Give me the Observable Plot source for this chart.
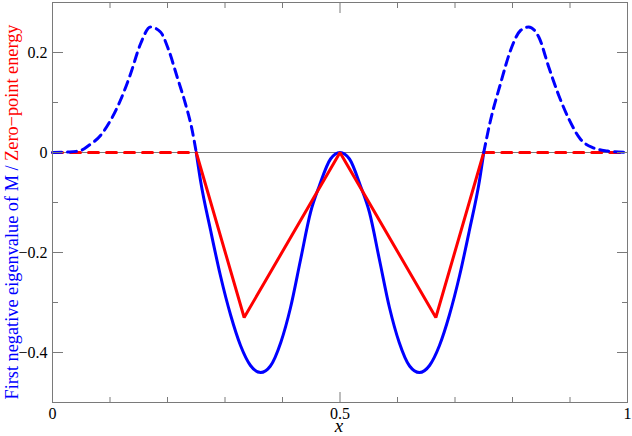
<!DOCTYPE html>
<html>
<head>
<meta charset="utf-8">
<script src="https://cdn.jsdelivr.net/npm/d3@7"></script>
<script src="https://cdn.jsdelivr.net/npm/@observablehq/plot@0.6"></script>
<style>
  html, body { margin: 0; padding: 0; background: #fff; }
</style>
</head>
<body>
<script>
// Blue curve: first negative eigenvalue of M (dashed outside [0.25, 0.75])
const blueLeftX = [0, 0.03, 0.049, 0.063, 0.0835, 0.1009, 0.118, 0.1357, 0.153, 0.1704, 0.1878, 0.2023, 0.2168, 0.2313, 0.243, 0.25];
const blueLeftY = [0, 0.001, 0.004, 0.014, 0.034, 0.064, 0.104, 0.157, 0.217, 0.251, 0.241, 0.204, 0.151, 0.097, 0.044, 0];

const blueMidX = [0.25, 0.2574, 0.275, 0.292, 0.31, 0.327, 0.3443, 0.362, 0.379, 0.397, 0.414, 0.4313, 0.4487, 0.464, 0.4835, 0.5,
                  0.5165, 0.536, 0.5513, 0.5687, 0.586, 0.603, 0.621, 0.638, 0.6557, 0.673, 0.69, 0.708, 0.725, 0.7426, 0.75];
const blueMidY = [0, -0.056, -0.156, -0.246, -0.326, -0.386, -0.426, -0.44, -0.427, -0.38, -0.31, -0.215, -0.12, -0.067, -0.013, 0,
                  -0.013, -0.068, -0.12, -0.215, -0.31, -0.38, -0.427, -0.44, -0.426, -0.386, -0.326, -0.246, -0.156, -0.056, 0];

const blueRightX = [0.75, 0.7617, 0.779, 0.7965, 0.8139, 0.828, 0.8457, 0.863, 0.8805, 0.898, 0.918, 0.9414, 0.965, 1];
const blueRightY = [0, 0.064, 0.137, 0.204, 0.244, 0.251, 0.231, 0.171, 0.114, 0.067, 0.027, 0.009, 0.003, 0];

// Red curve: zero-point energy (dashed outside [0.25, 0.75])
const redLeftX = [0, 0.25];
const redLeftY = [0, 0];
const redMidX = [0.25, 1 / 3, 0.5, 2 / 3, 0.75];
const redMidY = [0, -0.33, 0, -0.33, 0];
const redRightX = [0.75, 1];
const redRightY = [0, 0];

// Axis ticks
const xMajor = [0, 0.5, 1];
const xMinor = [0.1, 0.2, 0.3, 0.4, 0.6, 0.7, 0.8, 0.9];
const yMajor = [-0.4, -0.2, 0, 0.2];
const yMinor = [-0.3, -0.1, 0.1];
const zeroLine = [0];

const rows = (xs, ys) => xs.map((x, i) => ({x, y: ys[i]}));

const serif = "Liberation Serif";
const axisColor = "#7a7a7a";
const blue = "#0000ff";
const red = "#ff0000";
const fmt = d => d3.format("")(d).replace("-", "\u2212");

const plot = Plot.plot({
  width: 632,
  height: 436,
  marginLeft: 52,
  marginRight: 5,
  marginTop: 2,
  marginBottom: 34,
  x: {domain: [0, 1]},
  y: {domain: [-0.5, 0.3]},
  style: {fontFamily: serif, fontSize: "16px", color: "black", background: "white"},
  marks: [
    Plot.ruleY(zeroLine, {stroke: axisColor, strokeWidth: 1}),
    Plot.line(rows(blueMidX, blueMidY), {x: "x", y: "y", stroke: blue, strokeWidth: 3, curve: "monotone-x"}),
    Plot.line(rows(redMidX, redMidY), {x: "x", y: "y", stroke: red, strokeWidth: 3, strokeLinejoin: "miter"}),
    Plot.line(rows(redLeftX, redLeftY), {x: "x", y: "y", stroke: red, strokeWidth: 3, strokeDasharray: "10,8"}),
    Plot.line(rows(redRightX, redRightY), {x: "x", y: "y", stroke: red, strokeWidth: 3, strokeDasharray: "10,8"}),
    Plot.line(rows(blueLeftX, blueLeftY), {x: "x", y: "y", stroke: blue, strokeWidth: 3, strokeDasharray: "9,6", curve: "monotone-x"}),
    Plot.line(rows(blueRightX, blueRightY), {x: "x", y: "y", stroke: blue, strokeWidth: 3, strokeDasharray: "9,6", curve: "monotone-x"}),
    Plot.frame({stroke: axisColor, strokeWidth: 1}),
    // inward ticks
    Plot.axisY(yMajor, {anchor: "left", tickSize: -11, stroke: axisColor, fill: "none", label: null}),
    Plot.axisY(yMinor, {anchor: "left", tickSize: -6, stroke: axisColor, fill: "none", label: null}),
    Plot.axisY(yMajor, {anchor: "right", tickSize: -11, stroke: axisColor, fill: "none", label: null}),
    Plot.axisY(yMinor, {anchor: "right", tickSize: -6, stroke: axisColor, fill: "none", label: null}),
    Plot.axisX(xMajor, {anchor: "bottom", tickSize: -10, stroke: axisColor, fill: "none", label: null}),
    Plot.axisX(xMinor, {anchor: "bottom", tickSize: -5, stroke: axisColor, fill: "none", label: null}),
    Plot.axisX(xMajor, {anchor: "top", tickSize: -10, stroke: axisColor, fill: "none", label: null}),
    Plot.axisX(xMinor, {anchor: "top", tickSize: -5, stroke: axisColor, fill: "none", label: null}),
    // tick labels
    Plot.axisY(yMajor, {anchor: "left", tickSize: 0, tickPadding: 5, tickFormat: fmt, label: null, fill: "black", fontSize: 16, fontFamily: serif}),
    Plot.axisX(xMajor, {anchor: "bottom", tickSize: 0, tickPadding: 5, tickFormat: fmt, label: null, fill: "black", fontSize: 16, fontFamily: serif})
  ]
});

document.body.appendChild(plot);

const svg = d3.select(plot);
const ylab = svg.append("text")
  .attr("transform", "translate(18,212) rotate(-90)")
  .attr("text-anchor", "middle")
  .attr("font-family", serif)
  .attr("font-size", 18.3);
ylab.append("tspan").attr("fill", blue).text("First negative eigenvalue of M / ");
ylab.append("tspan").attr("fill", red).text("Zero\u2212point energy");

svg.append("text")
  .attr("x", 339)
  .attr("y", 432)
  .attr("text-anchor", "middle")
  .attr("font-family", serif)
  .attr("font-style", "italic")
  .attr("font-size", 19)
  .attr("fill", "black")
  .text("x");
</script>
</body>
</html>
